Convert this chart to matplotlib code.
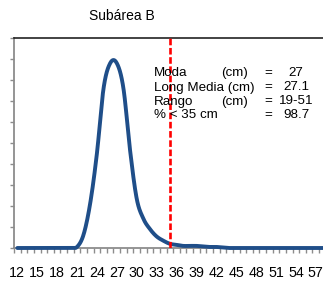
import numpy as np
import matplotlib
matplotlib.use('Agg')
import matplotlib.pyplot as plt

# talla (cm) y frecuencia (%)
tallas = list(range(12, 61))
frec = [0, 0, 0, 0, 0, 0, 0, 0, 0, 0.1, 1.3, 4.3, 9.0, 15.2, 17.6, 17.6,
        15.2, 9.3, 4.7, 2.8, 1.8, 1.1, 0.7, 0.4, 0.3, 0.2, 0.2, 0.2, 0.15,
        0.1, 0.1, 0.05, 0, 0, 0, 0, 0, 0, 0, 0, 0, 0, 0, 0, 0, 0, 0, 0, 0]
corte = 35
titulo = 'Subárea B'
filas = [('Moda', '(cm)', '=', '27'),
         ('Long Media (cm)', '', '=', '27.1'),
         ('Rango', '(cm)', '=', '19-51'),
         ('% < 35 cm', '', '=', '98.7')]
xticks = list(range(12, 58, 3))


def suavizar(x, y, n=20):
    # catmull-rom, como la linea suavizada de excel
    x = np.asarray(x, float)
    y = np.asarray(y, float)
    px = np.concatenate([[2*x[0]-x[1]], x, [2*x[-1]-x[-2]]])
    py = np.concatenate([[y[0]], y, [y[-1]]])
    xs, ys = [], []
    t = np.linspace(0, 1, n, endpoint=False)
    for i in range(1, len(px)-2):
        for p, out in ((px, xs), (py, ys)):
            p0, p1, p2, p3 = p[i-1], p[i], p[i+1], p[i+2]
            out.extend(0.5*((2*p1) + (-p0+p2)*t + (2*p0-5*p1+4*p2-p3)*t**2
                            + (-p0+3*p1-3*p2+p3)*t**3))
    xs.append(x[-1])
    ys.append(y[-1])
    return np.array(xs), np.maximum(np.array(ys), 0)


fig = plt.figure(figsize=(3.23, 2.85), dpi=100)
W, H = 323, 285
ax = fig.add_axes([14/W, 1-248/H, 325/W, 210/H])

sx, sy = suavizar(tallas, frec)
ax.plot(sx, sy, color='#1f4e89', lw=2.8, solid_capstyle='round', zorder=3, clip_on=False)
ax.axvline(corte, color='#ff0000', lw=1.9, dashes=(2.5, 1.0), zorder=4)

ax.set_xlim(11.5, 60.5)
ax.set_ylim(0, 20)
ax.set_yticks(np.arange(0, 21, 2))
ax.set_yticklabels([])
ax.tick_params(axis='y', direction='out', length=3, width=1, color='#8c8c8c')
ax.set_xticks(xticks)
ax.set_xticklabels([str(v) for v in xticks], fontsize=10.3, family='Liberation Sans')
ax.set_xticks(np.arange(11.5, 61, 1), minor=True)
ax.tick_params(axis='x', which='major', length=0, pad=13)
ax.tick_params(axis='x', which='minor', direction='out', length=3.5, width=1, color='#8c8c8c')

for s in ('left', 'bottom'):
    ax.spines[s].set_color('#8c8c8c')
    ax.spines[s].set_linewidth(1.3)
ax.spines['top'].set_color('#222222')
ax.spines['top'].set_linewidth(1.2)
ax.spines['right'].set_visible(False)

fig.text(121.5/W, 1-19.5/H, titulo, ha='center', va='baseline',
         fontsize=10, family='Liberation Sans')

cols = [154, 221, 268, 296]
bases = [76.5, 90.5, 104.5, 118]
for (a, b, c, d), yb in zip(filas, bases):
    kw = dict(va='baseline', fontsize=9.6, family='Liberation Sans')
    fig.text(cols[0]/W, 1-yb/H, a, ha='left', **kw)
    if b:
        fig.text(cols[1]/W, 1-yb/H, b, ha='left', **kw)
    fig.text(cols[2]/W, 1-yb/H, c, ha='center', **kw)
    fig.text(cols[3]/W, 1-yb/H, d, ha='center', **kw)

fig.savefig('out.png', dpi=100)
